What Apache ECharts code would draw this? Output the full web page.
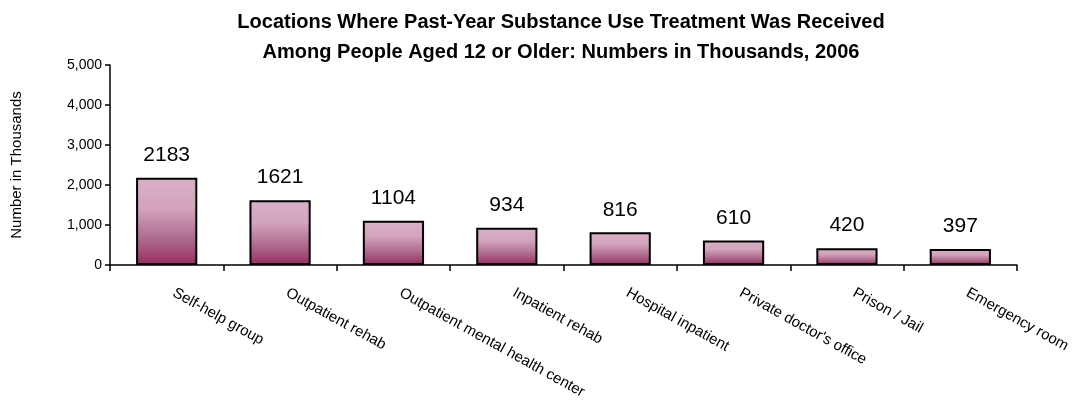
<!DOCTYPE html>
<html><head><meta charset="utf-8">
<script src="https://cdn.jsdelivr.net/npm/echarts@6/dist/echarts.min.js"></script>
<style>html,body{margin:0;padding:0;background:#fff}#c{width:1075px;height:406px}</style>
</head><body><div id="c"></div>
<script>
const categories = ["Self-help group","Outpatient rehab","Outpatient mental health center","Inpatient rehab","Hospital inpatient","Private doctor's office","Prison / Jail","Emergency room"];
const values = [2183,1621,1104,934,816,610,420,397];
const titleLines = ["Locations Where Past-Year Substance Use Treatment Was Received","Among People Aged 12 or Older: Numbers in Thousands, 2006"];
const yAxisName = "Number in Thousands";

const chart = echarts.init(document.getElementById('c'));
const F = "'Liberation Sans', Arial, sans-serif";
chart.setOption({
  backgroundColor:'#fff',
  animation:false,
  title:{text:titleLines.join('\n'),left:556,textAlign:'center',top:2,
    textStyle:{fontFamily:F,fontWeight:'bold',fontSize:20,lineHeight:30,color:'#000'}},
  grid:{left:110,right:58,top:65,bottom:141,containLabel:false,outerBoundsMode:'none'},
  xAxis:{type:'category',data:categories,
    axisLine:{lineStyle:{color:'#000',width:1.5}},
    axisTick:{show:true,alignWithLabel:false,length:6,inside:false,lineStyle:{color:'#000',width:1.5}},
    axisLabel:{interval:0,rotate:-29,margin:23,padding:[0,0,0,8],fontFamily:F,fontSize:15,color:'#000'}},
  yAxis:{type:'value',min:0,max:5000,interval:1000,
    name:yAxisName,nameLocation:'middle',nameGap:86,
    nameTextStyle:{fontFamily:F,fontSize:15,color:'#000'},
    axisLine:{show:true,lineStyle:{color:'#000',width:1.5}},
    axisTick:{show:true,length:5,lineStyle:{color:'#000',width:1.5}},
    splitLine:{show:false},
    axisLabel:{fontFamily:F,fontSize:14,color:'#000',margin:8,
      formatter:v=>v.toLocaleString('en-US')}},
  series:[{type:'bar',data:values,barWidth:'54%',
    itemStyle:{borderColor:'#000',borderWidth:2,
      color:new echarts.graphic.LinearGradient(0,0,0,1,[
        {offset:0,color:'#dab0c8'},{offset:0.35,color:'#d3a4bc'},
        {offset:0.7,color:'#ae6a8e'},{offset:1,color:'#962c62'}])},
    label:{show:true,position:'top',distance:12,fontFamily:F,fontSize:21,color:'#000'}}]
});
</script></body></html>
